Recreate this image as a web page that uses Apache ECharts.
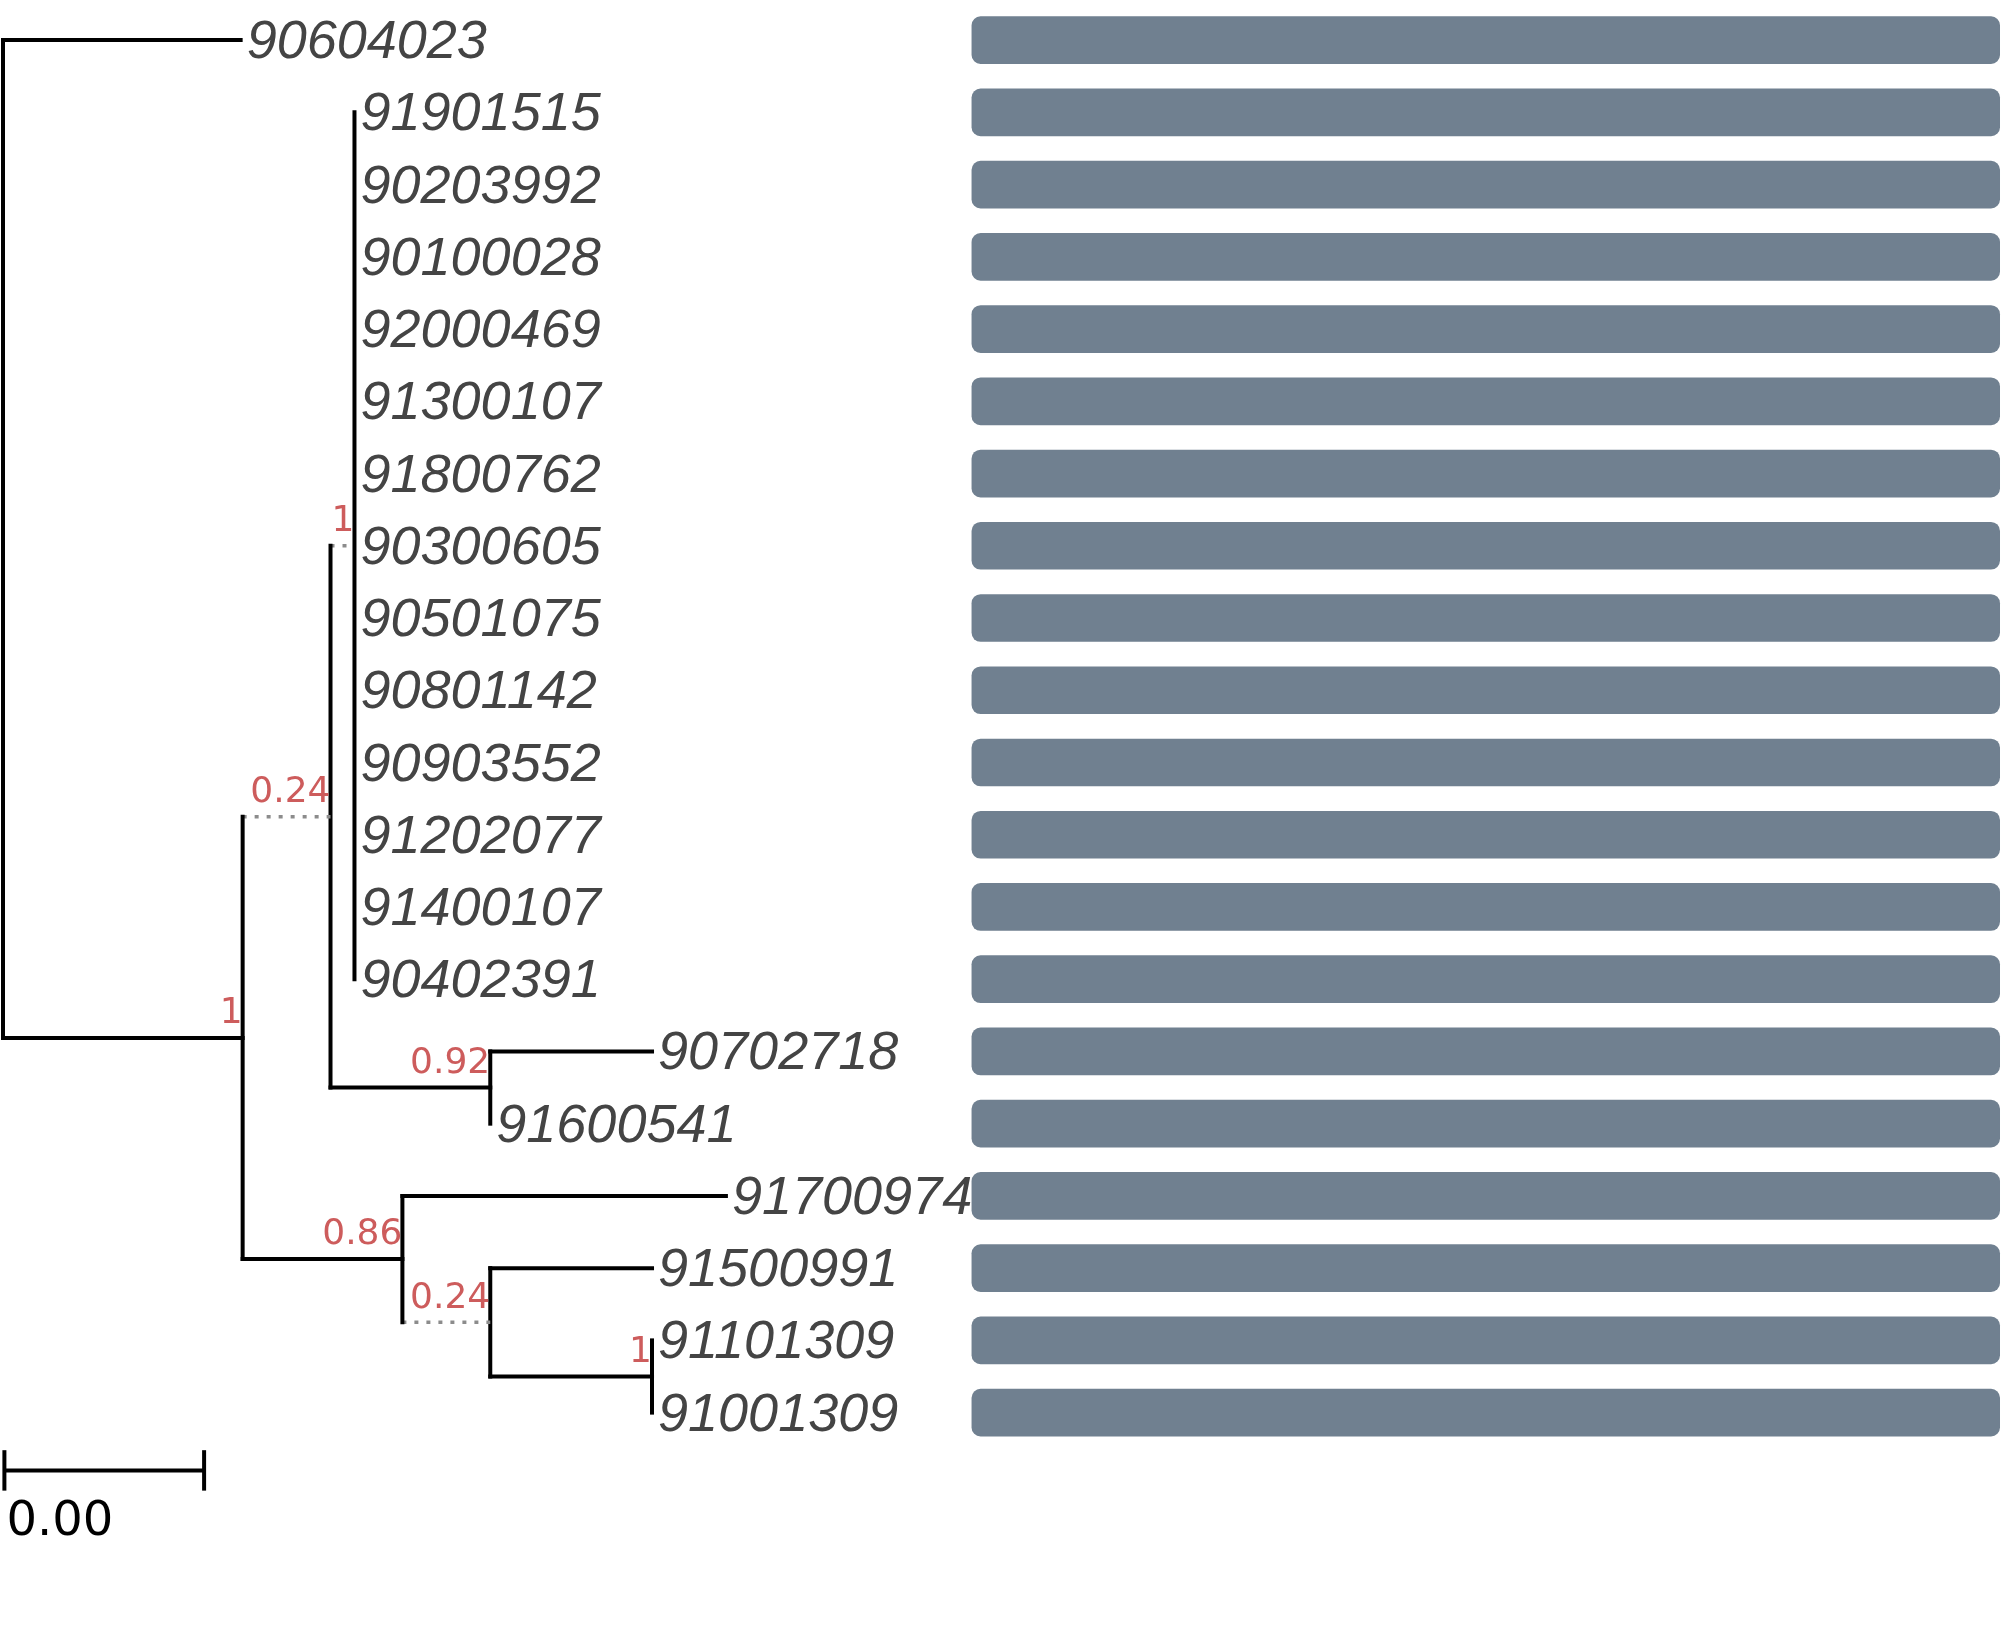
<!DOCTYPE html>
<html>
<head>
<meta charset="utf-8">
<script src="https://cdn.jsdelivr.net/npm/echarts@6/dist/echarts.min.js"></script>
<style>
  html, body { margin: 0; padding: 0; background: #fff; }
  #chart { width: 2007px; height: 1651px; }
</style>
</head>
<body>
<div id="chart"></div>
<script>
// Leaf order top to bottom
const leafNames = [
    '90604023', '91901515', '90203992', '90100028', '92000469', '91300107',
    '91800762', '90300605', '90501075', '90801142', '90903552', '91202077',
    '91400107', '90402391', '90702718', '91600541', '91700974', '91500991',
    '91101309', '91001309'
];

// Tree topology: branch length (scale-bar units), support, dotted branch flag
const polytomy = leafNames.slice(1, 14).map(n => ({ name: n, len: 0 }));
const tree = { len: 0, children: [
    { name: '90604023', len: 1.19 },
    { len: 1.20, support: '1', children: [
        { len: 0.44, support: '0.24', dotted: true, children: [
            { len: 0.12, support: '1', dotted: true, children: polytomy },
            { len: 0.80, support: '0.92', children: [
                { name: '90702718', len: 0.81 },
                { name: '91600541', len: 0 }
            ]}
        ]},
        { len: 0.80, support: '0.86', children: [
            { name: '91700974', len: 1.62 },
            { len: 0.44, support: '0.24', dotted: true, children: [
                { name: '91500991', len: 0.81 },
                { len: 0.81, support: '1', children: [
                    { name: '91101309', len: 0 },
                    { name: '91001309', len: 0 }
                ]}
            ]}
        ]}
    ]}
]};

// Track bar extent (x units) and scale bar
const barStart = 4.85;
const barEnd = 10.0;
const scaleBarLength = 1;
const scaleBarLabel = '0.00';

// Layout
const segments = [];   // [x1, y1, x2, y2, dotted]
const leafLabels = []; // [x, y, name]
const supports = [];   // [x, y, text]

function layout(node, x0) {
    const x = x0 + node.len;
    let y;
    if (!node.children) {
        y = leafNames.indexOf(node.name);
        leafLabels.push([x, y, node.name]);
    } else {
        const ys = node.children.map(c => layout(c, x));
        y = (Math.min(...ys) + Math.max(...ys)) / 2;
        segments.push([x, Math.min(...ys), x, Math.max(...ys), 0]);
        if (node.support) supports.push([x, y, node.support]);
    }
    if (node.len > 0) segments.push([x0, y, x, y, node.dotted ? 1 : 0]);
    return y;
}
layout(tree, 0);

const chart = echarts.init(document.getElementById('chart'));
chart.setOption({
    animation: false,
    grid: { left: 3, right: 3, top: 4, bottom: 0 },
    xAxis: { type: 'value', min: 0, max: 10.02, show: false },
    yAxis: { type: 'value', min: -0.5, max: 22.3, inverse: true, show: false },
    series: [
        {
            type: 'custom',
            data: leafNames.map((n, i) => [i]),
            renderItem: function (params, api) {
                const p1 = api.coord([barStart, api.value(0)]);
                const p2 = api.coord([barEnd, api.value(0)]);
                const h = api.size([0, 0.66])[1];
                return {
                    type: 'rect',
                    shape: { x: p1[0], y: p1[1] - h / 2, width: p2[0] - p1[0], height: h, r: 9 },
                    style: { fill: '#708090' }
                };
            }
        },
        {
            type: 'custom',
            data: segments,
            renderItem: function (params, api) {
                const a = api.coord([api.value(0), api.value(1)]);
                const b = api.coord([api.value(2), api.value(3)]);
                const dotted = api.value(4) === 1;
                return {
                    type: 'line',
                    shape: { x1: a[0], y1: a[1], x2: b[0], y2: b[1] },
                    style: dotted
                        ? { stroke: '#8c8c8c', lineWidth: 3.5, lineDash: [4, 8] }
                        : { stroke: '#000', lineWidth: 4, lineCap: 'square' }
                };
            },
            z: 3
        },
        {
            type: 'custom',
            data: leafLabels,
            renderItem: function (params, api) {
                const p = api.coord([api.value(0), api.value(1)]);
                return {
                    type: 'text',
                    style: {
                        x: p[0] + 6, y: p[1] + 3,
                        text: leafLabels[params.dataIndex][2],
                        fill: '#444',
                        font: 'italic 54px "Liberation Sans", Arial, sans-serif',
                        align: 'left', verticalAlign: 'middle'
                    }
                };
            },
            z: 4
        },
        {
            type: 'custom',
            data: supports,
            renderItem: function (params, api) {
                const p = api.coord([api.value(0), api.value(1)]);
                return {
                    type: 'text',
                    style: {
                        x: p[0], y: p[1] - 6,
                        text: supports[params.dataIndex][2],
                        fill: '#cd5c5c',
                        font: '36px "DejaVu Sans", sans-serif',
                        align: 'right', verticalAlign: 'bottom'
                    }
                };
            },
            z: 5
        },
        {
            type: 'custom',
            data: [[0, 19.8]],
            renderItem: function (params, api) {
                const y = api.value(1);
                const a = api.coord([0.007, y]);
                const b = api.coord([0.007 + scaleBarLength, y]);
                const t = api.size([0, 0.28])[1];
                const lab = api.coord([0.007, y + 0.72]);
                const st = { stroke: '#000', lineWidth: 4 };
                return {
                    type: 'group',
                    children: [
                        { type: 'line', shape: { x1: a[0], y1: a[1], x2: b[0], y2: b[1] }, style: st },
                        { type: 'line', shape: { x1: a[0], y1: a[1] - t, x2: a[0], y2: a[1] + t }, style: st },
                        { type: 'line', shape: { x1: b[0], y1: b[1] - t, x2: b[0], y2: b[1] + t }, style: st },
                        { type: 'text', style: { x: lab[0] + 2, y: lab[1], text: scaleBarLabel, fill: '#000',
                            font: '48px "DejaVu Sans", sans-serif', align: 'left', verticalAlign: 'middle' } }
                    ]
                };
            }
        }
    ]
});
</script>
</body>
</html>
